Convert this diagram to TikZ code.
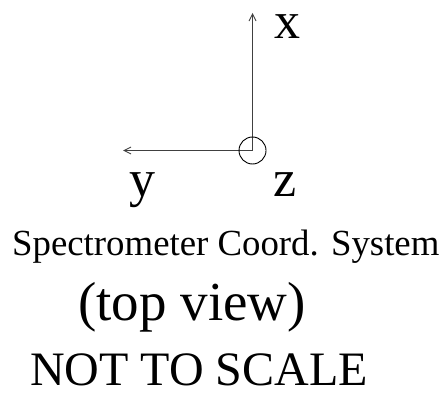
\documentclass[tikz,border=0pt]{standalone}
\usepackage{fontspec}
\setmainfont{Liberation Serif}
\usetikzlibrary{arrows.meta}
\begin{document}
\begin{tikzpicture}[x=1pt,y=-1pt,
  axis/.style={draw=black!75,line width=0.9pt,-{Straight Barb[length=7pt,width=7pt]}},
  lbl/.style={inner sep=0pt,anchor=base west,text height=26pt,font=\fontsize{52}{52}\selectfont},
]
\useasboundingbox (0,0) rectangle (446,398);
\coordinate (o) at (252.5,150.5);
\coordinate (xt) at (252.5,13);
\coordinate (yt) at (123,150.5);
\draw[axis] (o) -- (xt);
\draw[axis] (o) -- (yt);
\node[draw,circle,minimum size=27pt,inner sep=0pt,line width=0.9pt] (zc) at (o) {};
\node[lbl] (xl) at (274,39) {x};
\node[lbl] (yl) at (129,196) {y};
\node[lbl] (zl) at (273,196) {z};
\node[inner sep=0pt,anchor=base west,font=\fontsize{36.8}{38}\selectfont] (t1) at (12,255) {Spectrometer Coord. System};
\node[inner sep=0pt,anchor=base west,font=\fontsize{55}{55}\selectfont] (t2) at (78,320) {(top view)};
\node[inner sep=0pt,anchor=base west,font=\fontsize{48}{48}\selectfont] (t3) at (30,385) {NOT TO SCALE};
\end{tikzpicture}
\end{document}
